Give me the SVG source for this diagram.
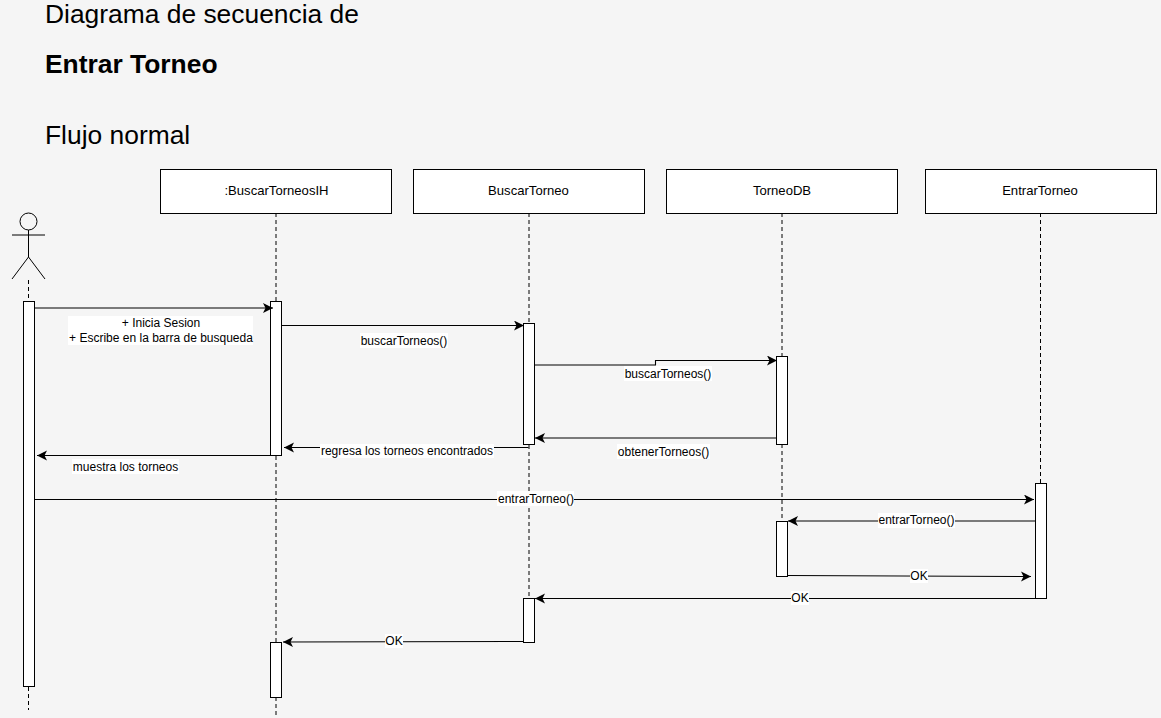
<svg xmlns="http://www.w3.org/2000/svg" width="1161" height="718" viewBox="0 0 1161 718">
<style>
text{font-family:"Liberation Sans",Arial,sans-serif;fill:#000}
.t{font-size:26.4px}
.l{font-size:12px;text-anchor:middle}
.h{font-size:13.1px;text-anchor:middle}
.box{fill:#fff;stroke:#000;stroke-width:1}
.act{fill:#fff;stroke:#000;stroke-width:1}
.life{fill:none;stroke:#000;stroke-dasharray:4 3;stroke-width:1}
.c{fill:none;stroke:#000;stroke-width:1.1;marker-end:url(#a)}
.bg{fill:#fff}
</style>
<defs><marker id="a" markerUnits="userSpaceOnUse" markerWidth="12" markerHeight="12" refX="10" refY="5" orient="auto"><path d="M0 0L10 5L0 10L2.500 5Z" fill="#000"/></marker></defs>
<rect width="1161" height="718" fill="#f5f5f5"/>
<g id="titles">
<text class="t" x="45" y="23">Diagrama de secuencia de</text>
<text class="t" x="45" y="73" font-weight="bold">Entrar Torneo</text>
<text class="t" x="45" y="144">Flujo normal</text>
</g>
<g id="lifelines">
<path class="life" d="M28.500 280V301M28.500 687V710"/>
<path class="life" d="M276 213V301M276 456V642M276 697V718"/>
<path class="life" d="M529 213V323M529 445V599"/>
<path class="life" d="M782 213V356M782 444V521"/>
<path class="life" d="M1040.500 213V483"/>
</g>
<g id="actor" fill="none" stroke="#000">
<circle cx="28.500" cy="221.500" r="8.500"/>
<path d="M28.500 230V257M12 235H45M12 279L28.500 257L45 279"/>
</g>
<g id="n1"><rect class="box" x="160.500" y="169.500" width="231" height="44"/><text class="h" x="276.500" y="195">:BuscarTorneosIH</text></g>
<g id="n2"><rect class="box" x="413.500" y="169.500" width="231" height="44"/><text class="h" x="528.500" y="195">BuscarTorneo</text></g>
<g id="n3"><rect class="box" x="666.500" y="169.500" width="231" height="44"/><text class="h" x="782" y="195">TorneoDB</text></g>
<g id="n4"><rect class="box" x="925.500" y="169.500" width="231" height="44"/><text class="h" x="1040" y="195">EntrarTorneo</text></g>
<g id="activations">
<rect class="act" x="23.500" y="301.500" width="11" height="385"/>
<rect class="act" x="270.500" y="301.500" width="11" height="154"/>
<rect class="act" x="523.500" y="323.500" width="11" height="121"/>
<rect class="act" x="776.500" y="356.500" width="11" height="88"/>
<rect class="act" x="1035.500" y="483.500" width="11" height="115"/>
<rect class="act" x="776.500" y="521.500" width="11" height="55"/>
<rect class="act" x="523.500" y="598.500" width="11" height="44"/>
<rect class="act" x="270.500" y="642.500" width="11" height="55"/>
</g>
<g id="connectors">
<path class="c" d="M34.500 308H273"/>
<path class="c" d="M281.500 325.500H524"/>
<path class="c" d="M534.500 365H655.500V360.500H777"/>
<path class="c" d="M776.500 438H535"/>
<path class="c" d="M528.500 447.500H284"/>
<path class="c" d="M270.500 455.500H37"/>
<path class="c" d="M34.500 499.500H1034"/>
<path class="c" d="M1035.500 521H788"/>
<path class="c" d="M787.500 575.500L1031 576.500"/>
<path class="c" d="M1035.500 598.500H535"/>
<path class="c" d="M523.500 641.500L283 642"/>
</g>
<g id="labels">
<rect class="bg" x="68" y="316" width="185" height="29"/>
<text class="l" x="161" y="327">+ Inicia Sesion</text>
<text class="l" x="161" y="342">+ Escribe en la barra de busqueda</text>
<rect class="bg" x="360" y="333" width="88" height="15"/>
<text class="l" x="404" y="345">buscarTorneos()</text>
<rect class="bg" x="624" y="366" width="88" height="15"/>
<text class="l" x="668" y="378">buscarTorneos()</text>
<rect class="bg" x="617" y="444" width="93" height="15"/>
<text class="l" x="663.500" y="456">obtenerTorneos()</text>
<rect class="bg" x="320" y="444" width="174" height="14"/>
<text class="l" x="407" y="455">regresa los torneos encontrados</text>
<rect class="bg" x="72" y="459" width="107" height="15"/>
<text class="l" x="125.500" y="471">muestra los torneos</text>
<rect class="bg" x="497" y="491" width="77" height="15"/>
<text class="l" x="536" y="503">entrarTorneo()</text>
<rect class="bg" x="878" y="513" width="77" height="15"/>
<text class="l" x="916.500" y="524">entrarTorneo()</text>
<rect class="bg" x="910" y="569" width="18" height="14"/>
<text class="l" x="919" y="580">OK</text>
<rect class="bg" x="791" y="591" width="18" height="14"/>
<text class="l" x="800" y="602">OK</text>
<rect class="bg" x="385" y="634" width="18" height="14"/>
<text class="l" x="394" y="645">OK</text>
</g>
</svg>
